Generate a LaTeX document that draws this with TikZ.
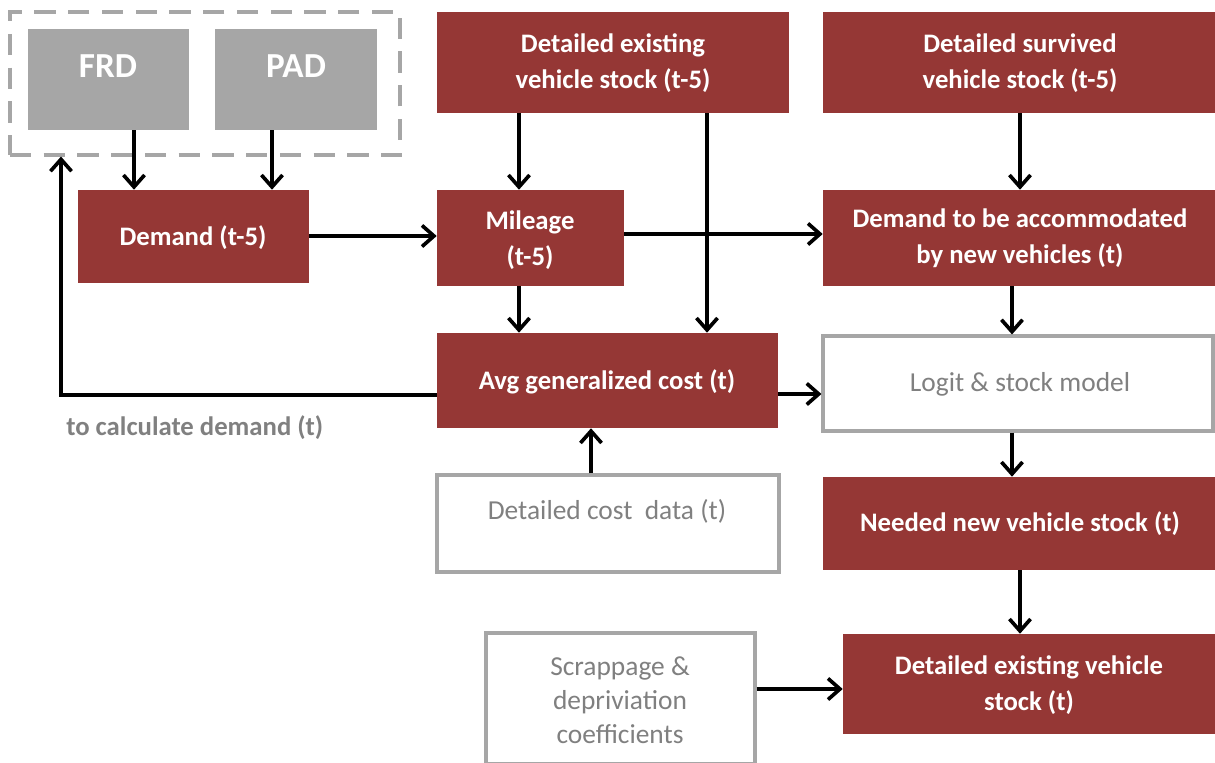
\documentclass[tikz,border=0pt]{standalone}
\usepackage{fontspec}
\setmainfont{Carlito}
\usetikzlibrary{arrows.meta,fit}
\definecolor{boxred}{RGB}{149,55,53}
\definecolor{boxgray}{RGB}{166,166,166}
\definecolor{txtgray}{RGB}{128,128,128}
\begin{document}
\begin{tikzpicture}[x=0.025cm,y=-0.025cm,
  redbox/.style={fill=boxred, draw=none, inner sep=0pt},
  greybox/.style={fill=boxgray, draw=none, inner sep=0pt},
  openbox/.style={fill=white, draw=boxgray, line width=2.2pt, inner sep=0pt},
  groupbox/.style={draw=boxgray, line width=2.2pt, dash pattern=on 15pt off 9pt,
    inner sep=0pt},
  wtext/.style={text=white, inner sep=0pt, align=center,
    font=\fontsize{19}{25.5}\selectfont\bfseries},
  gtext/.style={text=txtgray, inner sep=0pt, align=center,
    font=\fontsize{19.5}{24}\selectfont},
  bigtext/.style={text=white, inner sep=0pt, font=\fontsize{25}{30}\selectfont\bfseries},
  note/.style={text=txtgray, inner sep=0pt, font=\fontsize{19}{24}\selectfont\bfseries},
  arr/.style={draw=black, line width=2.6pt,
    -{Straight Barb[length=8.5pt,width=15pt,line width=2.6pt]}}
]
\useasboundingbox (0,0) rectangle (1215,762);

% input group
\node[groupbox, fit={(10,12) (400,155)}] (grp) {};
\node[greybox, fit={(28,29) (189,130)}] (frd) {};
\node[greybox, fit={(215,29) (377,130)}] (pad) {};
\node[bigtext] (frdt) at (108,66) {FRD};
\node[bigtext] (padt) at (296,66) {PAD};

% boxes
\node[redbox, fit={(78,190) (309,283)}] (dem) {};
\node[redbox, fit={(437,12) (789,113)}] (des) {};
\node[redbox, fit={(823,12) (1215,113)}] (dsv) {};
\node[redbox, fit={(437,190) (624,286)}] (mil) {};
\node[redbox, fit={(823,190) (1215,286)}] (dac) {};
\node[redbox, fit={(437,333) (778,428)}] (avg) {};
\node[openbox, fit={(823,336) (1213,431)}] (lgt) {};
\node[openbox, fit={(437,475) (779,572)}] (cst) {};
\node[redbox, fit={(823,477) (1215,570)}] (ned) {};
\node[openbox, fit={(486,633) (755,764)}] (scr) {};
\node[redbox, fit={(843,634) (1215,734)}] (det) {};

% box texts
\node[wtext] (demt) at (193,238) {Demand (t-5)};
\node[wtext] (dest) at (613,63) {Detailed existing\\vehicle stock (t-5)};
\node[wtext] (dsvt) at (1020,63) {Detailed survived\\vehicle stock (t-5)};
\node[wtext] (milt) at (530,240) {Mileage\\(t-5)};
\node[wtext] (dact) at (1020,238) {Demand to be accommodated\\by new vehicles (t)};
\node[wtext] (avgt) at (607,382) {Avg generalized cost (t)};
\node[gtext] (lgtt) at (1020,384) {Logit \& stock model};
\node[gtext] (cstt) at (607,511) {Detailed cost~ data (t)};
\node[wtext] (nedt) at (1020,524) {Needed new vehicle stock (t)};
\node[gtext] (scrt) at (620,700) {Scrappage \&\\depriviation\\coefficients};
\node[wtext] (dett) at (1029,685) {Detailed existing vehicle\\stock (t)};
\node[note, anchor=west] (lbl) at (66,428) {to calculate demand (t)};

% x positions of vertical connectors, y positions of horizontal ones
\coordinate (c1) at (134,0);
\coordinate (c2) at (272,0);
\coordinate (c3) at (519,236);
\coordinate (c4) at (707,234);
\coordinate (c5) at (1020,394);
\coordinate (c6) at (1012,0);
\coordinate (c7) at (591,689);
\coordinate (c8) at (61,395);

\draw[arr] (c1 |- frd.south) -- (c1 |- dem.north);
\draw[arr] (c2 |- pad.south) -- (c2 |- dem.north);
\draw[arr] (dem.east |- c3) -- (mil.west |- c3);
\draw[arr] (c3 |- des.south) -- (c3 |- mil.north);
\draw[arr] (c4 |- des.south) -- (c4 |- avg.north);
\draw[arr] (mil.east |- c4) -- (dac.west |- c4);
\draw[arr] (c3 |- mil.south) -- (c3 |- avg.north);
\draw[arr] (c5 |- dsv.south) -- (c5 |- dac.north);
\draw[arr] (c6 |- dac.south) -- (c6 |- lgt.north);
\draw[arr] (avg.east |- c5) -- (lgt.west |- c5);
\draw[arr] (c7 |- cst.north) -- (c7 |- avg.south);
\draw[arr] (c6 |- lgt.south) -- (c6 |- ned.north);
\draw[arr] (c5 |- ned.south) -- (c5 |- det.north);
\draw[arr] (scr.east |- c7) -- (det.west |- c7);
\draw[arr] (avg.west |- c8) -| (c8 |- grp.south);
\end{tikzpicture}
\end{document}
